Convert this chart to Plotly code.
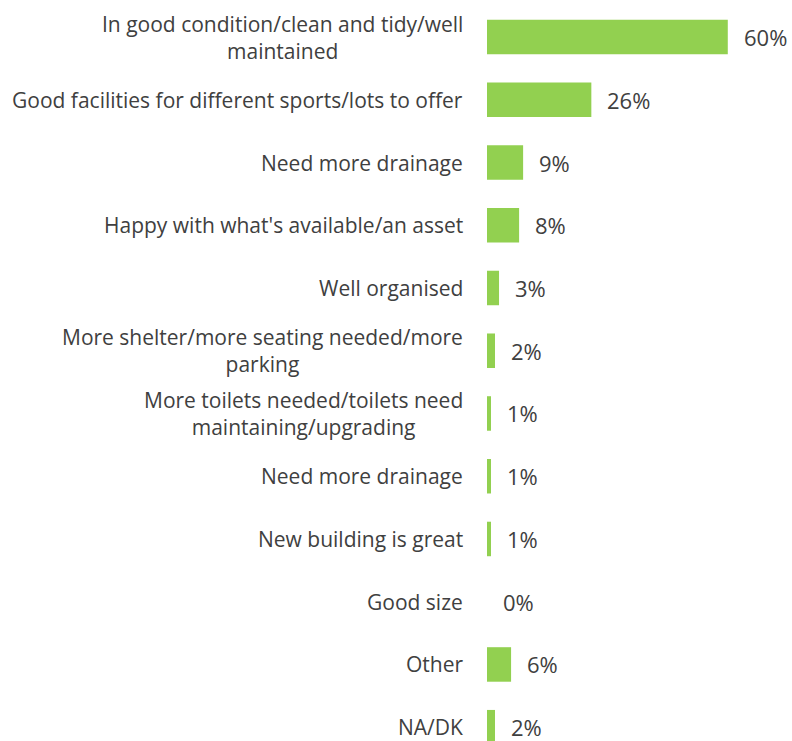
import plotly.graph_objects as go

categories = [
    "In good condition/clean and tidy/well<br>maintained",
    "Good facilities for different sports/lots to offer",
    "Need more drainage",
    "Happy with what's available/an asset",
    "Well organised",
    "More shelter/more seating needed/more<br>parking",
    "More toilets needed/toilets need<br>maintaining/upgrading",
    "Need more drainage",
    "New building is great",
    "Good size",
    "Other",
    "NA/DK",
]
values = [60, 26, 9, 8, 3, 2, 1, 1, 1, 0, 6, 2]
value_labels = [f"{v}%" for v in values]
positions = list(range(len(categories)))

GREEN = "#92D050"
TEXT = "#404040"
FONT = "Open Sans"

fig = go.Figure()
fig.add_trace(go.Bar(
    x=values,
    y=positions,
    orientation="h",
    marker=dict(color=GREEN, line=dict(width=0)),
    width=0.55,
    hoverinfo="skip",
))

for p, v, lab in zip(positions, values, value_labels):
    fig.add_annotation(
        x=v, y=p, text=lab, showarrow=False,
        xanchor="left", yanchor="middle", xshift=14,
        font=dict(family=FONT, size=22, color=TEXT),
    )

for p, cat in zip(positions, categories):
    fig.add_annotation(
        xref="paper", x=0, y=p, text=cat, showarrow=False,
        xanchor="right", yanchor="middle", xshift=-22, align="center",
        font=dict(family=FONT, size=21, color=TEXT),
    )

fig.update_layout(
    width=792, height=741,
    margin=dict(l=487, r=0, t=0, b=0),
    plot_bgcolor="white", paper_bgcolor="white",
    showlegend=False,
    font=dict(family=FONT, size=21, color=TEXT),
)
fig.update_xaxes(range=[0, 76], visible=False, showgrid=False, zeroline=False)
fig.update_yaxes(
    range=[11.22, -0.59],
    showticklabels=False,
    showgrid=False, zeroline=False, showline=False, ticks="",
)

fig.write_html("out.html")
